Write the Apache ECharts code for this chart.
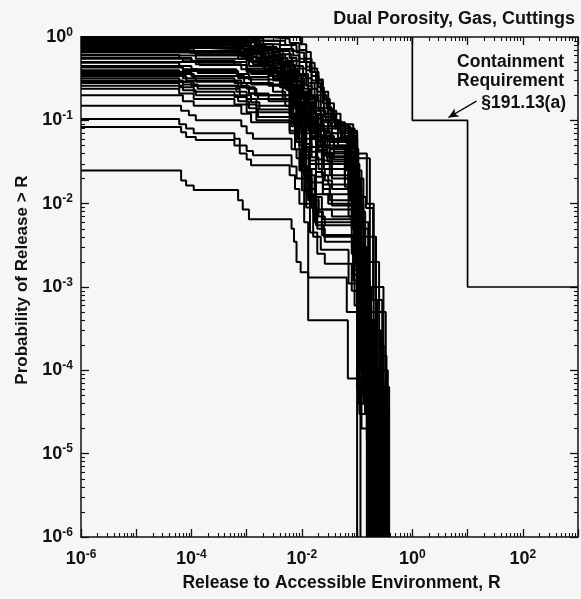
<!DOCTYPE html>
<html><head><meta charset="utf-8">
<script src="https://cdn.jsdelivr.net/npm/echarts@6/dist/echarts.min.js"></script>
<style>html,body{margin:0;padding:0;background:#f6f6f6}#c{width:581px;height:599px}</style>
</head><body><div id="c"></div>
<script>
// ---- tick labels ----
const xLabelValues = [1e-6, 1e-4, 1e-2, 1, 100];
const yLabelValues = [1e-6, 1e-5, 1e-4, 1e-3, 1e-2, 1e-1, 1];

// ---- containment requirement (EPA 191.13(a)) ----
const containmentX = [1, 1, 10, 10, 1000];
const containmentY = [1, 0.1, 0.1, 0.001, 0.001];
const arrowFrom = [14.5, 0.17];
const arrowTo = [4.5, 0.108];

// ---- CCDF curves: [release R, probability > R] breakpoints ----
const upperCurves = [
  [[1e-6,1.0],[9.6e-3,0.82],[1.2e-2,0.66],[1.45e-2,0.49],[1.7e-2,0.38],[2.0e-2,0.30],[2.3e-2,0.22],[2.6e-2,0.175],[3.0e-2,0.145],[3.4e-2,0.116],[3.8e-2,0.093],[4.5e-2,0.077],[5.1e-2,0.063],[6.8e-2,0.053],[8.4e-2,0.046],[0.104,0.012],[0.145,0.0089],[0.195,7e-4],[0.285,6.3e-5],[0.38,1e-6]],
  [[1e-6,0.99],[3e-3,0.95],[6e-3,0.85],[9e-3,0.7],[1.2e-2,0.55],[1.5e-2,0.42],[1.9e-2,0.31],[2.4e-2,0.22],[3e-2,0.16],[3.8e-2,0.12],[5e-2,0.09],[7e-2,0.07],[0.1,0.04],[0.15,0.01],[0.2,0.001],[0.3,1e-4],[0.36,1e-6]],
  [[1e-6,0.98],[1.2e-4,0.95],[1.2e-3,0.9],[2e-3,0.82],[3e-3,0.72],[4.5e-3,0.62],[6.5e-3,0.52],[9e-3,0.42],[1.2e-2,0.32],[1.5e-2,0.24],[1.9e-2,0.17],[2.5e-2,0.12],[3.3e-2,0.085],[4.5e-2,0.062],[9.5e-2,0.025],[0.12,0.006],[0.16,7e-4],[0.23,5e-5],[0.32,1e-6]],
  [[1e-6,0.97],[2e-3,0.9],[5e-3,0.8],[8e-3,0.65],[1.1e-2,0.5],[1.4e-2,0.38],[1.8e-2,0.28],[2.2e-2,0.2],[2.8e-2,0.14],[3.5e-2,0.1],[4.5e-2,0.075],[5.5e-2,0.06],[0.1,0.02],[0.13,0.005],[0.16,0.002],[0.25,1e-4],[0.33,1e-6]],
  [[1e-6,0.96],[1.5e-3,0.9],[4e-3,0.8],[6.5e-3,0.68],[9e-3,0.55],[1.2e-2,0.44],[1.5e-2,0.34],[2e-2,0.25],[2.5e-2,0.18],[3.2e-2,0.13],[4.2e-2,0.095],[6e-2,0.075],[0.1,0.035],[0.17,0.004],[0.22,5e-4],[0.33,3e-5],[0.37,1e-6]],
  [[1e-6,0.95],[1e-4,0.92],[1e-3,0.86],[1.8e-3,0.76],[2.8e-3,0.66],[4e-3,0.56],[5.5e-3,0.46],[7.5e-3,0.36],[1e-2,0.27],[1.3e-2,0.2],[1.7e-2,0.14],[2.2e-2,0.1],[3e-2,0.07],[4.5e-2,0.05],[0.09,0.018],[0.11,0.003],[0.15,3e-4],[0.27,1e-6]],
  [[1e-6,0.94],[1.5e-4,0.9],[1.5e-3,0.82],[4e-3,0.72],[7e-3,0.6],[9e-3,0.5],[1.2e-2,0.4],[1.5e-2,0.3],[1.9e-2,0.22],[2.4e-2,0.16],[3e-2,0.12],[4e-2,0.085],[6e-2,0.065],[0.095,0.03],[0.11,0.008],[0.14,0.001],[0.2,2e-4],[0.3,1e-6]],
  [[1e-6,0.93],[1.4e-4,0.89],[1.4e-3,0.8],[2.2e-3,0.7],[3.2e-3,0.6],[4.5e-3,0.5],[6e-3,0.4],[8e-3,0.3],[1.05e-2,0.22],[1.35e-2,0.16],[1.75e-2,0.115],[2.4e-2,0.08],[3.5e-2,0.058],[8e-2,0.028],[0.1,0.005],[0.14,4e-4],[0.19,2e-5],[0.29,1e-6]],
  [[1e-6,0.91],[1.2e-4,0.86],[1.2e-3,0.76],[3.5e-3,0.68],[6e-3,0.56],[8e-3,0.45],[1.05e-2,0.36],[1.3e-2,0.28],[1.7e-2,0.2],[2.2e-2,0.14],[3e-2,0.1],[5e-2,0.075],[8e-2,0.06],[0.1,0.015],[0.12,0.004],[0.17,3e-4],[0.26,1e-6]],
  [[1e-6,0.9],[9e-5,0.86],[9e-4,0.78],[1.6e-3,0.68],[2.5e-3,0.58],[3.6e-3,0.48],[5e-3,0.38],[7e-3,0.29],[9.5e-3,0.21],[1.25e-2,0.15],[1.6e-2,0.105],[2.2e-2,0.075],[3.2e-2,0.055],[7.5e-2,0.022],[0.095,0.004],[0.12,4e-4],[0.21,1e-6]],
  [[1e-6,0.88],[1e-4,0.83],[1e-3,0.72],[3e-3,0.62],[5e-3,0.52],[7e-3,0.42],[9e-3,0.34],[1.2e-2,0.26],[1.5e-2,0.19],[2e-2,0.13],[2.7e-2,0.1],[4e-2,0.08],[9e-2,0.045],[0.105,0.01],[0.13,0.002],[0.15,5e-4],[0.22,1e-6]],
  [[1e-6,0.87],[1.1e-4,0.83],[1.1e-3,0.74],[1.9e-3,0.64],[2.9e-3,0.54],[4.2e-3,0.44],[6e-3,0.34],[8e-3,0.25],[1.05e-2,0.18],[1.35e-2,0.13],[1.8e-2,0.09],[2.5e-2,0.065],[3.8e-2,0.048],[9e-2,0.015],[0.105,0.0025],[0.125,1.5e-4],[0.34,1e-6]],
  [[1e-6,0.85],[9e-5,0.8],[9e-4,0.7],[2.5e-3,0.6],[4.5e-3,0.5],[6.5e-3,0.4],[8.5e-3,0.32],[1.1e-2,0.24],[1.4e-2,0.18],[1.8e-2,0.14],[2.5e-2,0.11],[4e-2,0.09],[8.5e-2,0.05],[0.1,0.02],[0.115,0.003],[0.16,2e-4],[0.2,1e-6]],
  [[1e-6,0.84],[8e-5,0.8],[8e-4,0.72],[1.4e-3,0.62],[2.2e-3,0.52],[3.2e-3,0.42],[4.6e-3,0.33],[6.5e-3,0.25],[8.8e-3,0.18],[1.15e-2,0.125],[1.5e-2,0.088],[2e-2,0.063],[2.9e-2,0.047],[8e-2,0.012],[0.1,0.0015],[0.135,1e-4],[0.25,1e-6]],
  [[1e-6,0.82],[8e-5,0.78],[8e-4,0.66],[2e-3,0.58],[4e-3,0.48],[6e-3,0.38],[8e-3,0.3],[1e-2,0.22],[1.3e-2,0.16],[1.7e-2,0.12],[2.3e-2,0.095],[3.5e-2,0.08],[8e-2,0.04],[0.095,0.009],[0.12,0.001],[0.18,1e-4],[0.24,1e-6]],
  [[1e-6,0.81],[1.3e-4,0.77],[1.3e-3,0.68],[2e-3,0.58],[3e-3,0.48],[4.3e-3,0.39],[6e-3,0.3],[8.2e-3,0.22],[1.1e-2,0.16],[1.45e-2,0.11],[1.9e-2,0.078],[2.6e-2,0.056],[3.8e-2,0.042],[9e-2,0.011],[0.11,0.0012],[0.17,6e-5],[0.31,1e-6]],
  [[1e-6,0.79],[1e-4,0.74],[9e-4,0.64],[2.2e-3,0.55],[3.8e-3,0.46],[5.5e-3,0.37],[7.5e-3,0.29],[9.5e-3,0.22],[1.2e-2,0.17],[1.6e-2,0.13],[2.2e-2,0.1],[3e-2,0.085],[7.5e-2,0.035],[0.09,0.012],[0.11,0.002],[0.14,1.5e-4],[0.28,1e-6]],
  [[1e-6,0.78],[9e-5,0.74],[9e-4,0.65],[1.5e-3,0.55],[2.4e-3,0.45],[3.5e-3,0.36],[5e-3,0.28],[7e-3,0.2],[9.5e-3,0.14],[1.25e-2,0.098],[1.65e-2,0.07],[2.2e-2,0.05],[3.2e-2,0.037],[8.5e-2,0.009],[0.1,0.001],[0.13,5e-5],[0.22,1e-6]],
  [[1e-6,0.76],[7e-5,0.72],[7e-4,0.62],[1.8e-3,0.52],[3.5e-3,0.43],[5e-3,0.35],[7e-3,0.27],[9e-3,0.2],[1.15e-2,0.15],[1.5e-2,0.11],[2e-2,0.085],[3e-2,0.07],[7e-2,0.03],[0.085,0.006],[0.1,8e-4],[0.13,1e-4],[0.19,1e-6]],
  [[1e-6,0.75],[1.2e-4,0.71],[1.2e-3,0.62],[1.9e-3,0.52],[2.9e-3,0.43],[4.2e-3,0.34],[6e-3,0.26],[8.2e-3,0.19],[1.1e-2,0.13],[1.45e-2,0.092],[1.9e-2,0.066],[2.6e-2,0.047],[3.8e-2,0.034],[9.5e-2,0.008],[0.115,8e-4],[0.14,3e-5],[0.27,1e-6]],
  [[1e-6,0.73],[1.1e-4,0.68],[8e-4,0.58],[1.5e-3,0.5],[3e-3,0.42],[4.5e-3,0.33],[6.5e-3,0.26],[8.5e-3,0.19],[1.1e-2,0.14],[1.4e-2,0.1],[1.9e-2,0.075],[2.8e-2,0.06],[6.5e-2,0.025],[0.08,0.005],[0.1,5e-4],[0.15,5e-5],[0.35,1e-6]],
  [[1e-6,0.72],[7e-5,0.68],[7e-4,0.6],[1.3e-3,0.5],[2.1e-3,0.41],[3.1e-3,0.32],[4.5e-3,0.25],[6.4e-3,0.18],[8.6e-3,0.125],[1.15e-2,0.088],[1.5e-2,0.062],[2e-2,0.044],[2.9e-2,0.032],[7e-2,0.007],[0.09,6e-4],[0.12,2e-5],[0.2,1e-6]],
  [[1e-6,0.7],[9e-5,0.65],[7e-4,0.55],[1.3e-3,0.47],[2.8e-3,0.39],[4.2e-3,0.31],[6e-3,0.24],[8e-3,0.17],[1e-2,0.12],[1.3e-2,0.09],[1.8e-2,0.065],[2.6e-2,0.05],[6e-2,0.02],[0.09,0.003],[0.12,3e-4],[0.17,2e-5],[0.31,1e-6]],
  [[1e-6,0.69],[1e-4,0.65],[1e-3,0.57],[1.7e-3,0.48],[2.6e-3,0.39],[3.8e-3,0.31],[5.4e-3,0.23],[7.5e-3,0.17],[1e-2,0.12],[1.3e-2,0.082],[1.75e-2,0.058],[2.4e-2,0.041],[3.5e-2,0.03],[8.5e-2,0.006],[0.1,5e-4],[0.16,1e-5],[0.3,1e-6]],
  [[1e-6,0.67],[1.3e-4,0.62],[1e-3,0.52],[1.6e-3,0.45],[3.2e-3,0.37],[5e-3,0.29],[7e-3,0.22],[9e-3,0.16],[1.2e-2,0.115],[1.6e-2,0.08],[2.2e-2,0.06],[3.2e-2,0.045],[7e-2,0.018],[0.095,0.0025],[0.13,2e-4],[0.21,1e-6]]
];
const middleCurves = [
  [[1e-6,0.65],[1.2e-4,0.6],[1.2e-3,0.5],[2e-3,0.42],[3.5e-3,0.33],[5e-3,0.24],[7e-3,0.15],[9e-3,0.085],[1.1e-2,0.045],[1.35e-2,0.022],[1.7e-2,0.012],[2.3e-2,0.0085],[3.5e-2,0.007],[9.5e-2,0.0025],[0.13,1e-4],[0.24,1e-6]],
  [[1e-6,0.61],[6e-5,0.56],[1e-4,0.52],[6e-4,0.46],[1e-3,0.4],[2.5e-3,0.34],[4e-3,0.28],[6e-3,0.21],[8e-3,0.15],[1e-2,0.105],[1.3e-2,0.075],[1.8e-2,0.055],[2.5e-2,0.04],[6e-2,0.016],[0.1,0.002],[0.14,1e-4],[0.23,1e-6]],
  [[1e-6,0.6],[1.2e-4,0.55],[1.1e-3,0.45],[3.5e-3,0.36],[5.5e-3,0.25],[7.5e-3,0.15],[9.5e-3,0.08],[1.15e-2,0.035],[1.4e-2,0.015],[1.8e-2,0.008],[2.4e-2,0.0065],[9e-2,0.002],[0.13,5e-5],[0.24,1e-6]],
  [[1e-6,0.56],[7e-5,0.51],[1.2e-4,0.47],[8e-4,0.41],[1.2e-3,0.36],[3e-3,0.3],[5e-3,0.24],[7e-3,0.18],[9e-3,0.13],[1.1e-2,0.09],[1.4e-2,0.065],[1.9e-2,0.048],[2.8e-2,0.036],[7e-2,0.013],[0.1,0.001],[0.15,6e-5],[0.27,1e-6]],
  [[1e-6,0.55],[1e-4,0.5],[1e-3,0.42],[2.5e-3,0.34],[4e-3,0.25],[6e-3,0.17],[8e-3,0.1],[1e-2,0.05],[1.2e-2,0.02],[1.5e-2,0.009],[1.9e-2,0.005],[2.6e-2,0.0035],[8.5e-2,0.0012],[0.105,4e-5],[0.18,1e-6]],
  [[1e-6,0.5],[1.4e-4,0.46],[1e-3,0.38],[4e-3,0.3],[6e-3,0.2],[8e-3,0.12],[1e-2,0.06],[1.2e-2,0.025],[1.5e-2,0.012],[2e-2,0.007],[2.6e-2,0.0055],[9e-2,0.0018],[0.12,1e-4],[0.2,1e-6]],
  [[1e-6,0.49],[6e-5,0.45],[1e-4,0.41],[6.5e-4,0.36],[1.1e-3,0.31],[5e-3,0.25],[7e-3,0.19],[9e-3,0.14],[1.1e-2,0.1],[1.4e-2,0.07],[1.8e-2,0.05],[2.3e-2,0.038],[3.2e-2,0.03],[7.5e-2,0.011],[0.1,0.0015],[0.16,8e-5],[0.3,1e-6]],
  [[1e-6,0.45],[7e-5,0.41],[1.3e-4,0.37],[7e-4,0.32],[1.2e-3,0.27],[6e-3,0.21],[8e-3,0.16],[1e-2,0.12],[1.2e-2,0.085],[1.5e-2,0.06],[1.9e-2,0.043],[2.5e-2,0.033],[3.5e-2,0.026],[8e-2,0.009],[0.1,0.001],[0.14,3e-5],[0.25,1e-6]],
  [[1e-6,0.43],[7e-5,0.39],[7e-4,0.33],[2.5e-3,0.26],[4.5e-3,0.18],[6.5e-3,0.11],[8.5e-3,0.06],[1.05e-2,0.028],[1.3e-2,0.012],[1.7e-2,0.006],[2.3e-2,0.0042],[9e-2,0.0016],[0.12,6e-5],[0.22,1e-6]],
  [[1e-6,0.4],[6e-5,0.36],[1.1e-4,0.32],[6e-4,0.28],[1e-3,0.24],[1.5e-3,0.2],[6.5e-3,0.16],[9e-3,0.12],[1.1e-2,0.085],[1.4e-2,0.06],[1.8e-2,0.042],[2.3e-2,0.03],[3.2e-2,0.022],[8e-2,0.008],[0.1,9e-4],[0.13,4e-5],[0.2,1e-6]],
  [[1e-6,0.38],[1e-4,0.34],[9e-4,0.28],[3e-3,0.22],[5e-3,0.15],[7e-3,0.09],[9e-3,0.05],[1.1e-2,0.022],[1.4e-2,0.01],[1.8e-2,0.0055],[2.5e-2,0.004],[8.5e-2,0.0014],[0.1,6e-5],[0.16,1e-6]],
  [[1e-6,0.36],[7e-5,0.32],[1.2e-4,0.29],[7e-4,0.25],[1.1e-3,0.21],[1.6e-3,0.18],[6.5e-3,0.14],[9e-3,0.1],[1.2e-2,0.07],[1.5e-2,0.048],[1.9e-2,0.034],[2.5e-2,0.026],[3.5e-2,0.02],[8.5e-2,0.007],[0.11,6e-4],[0.18,2e-5],[0.36,1e-6]],
  [[1e-6,0.34],[8e-5,0.3],[8e-4,0.25],[1.4e-3,0.2],[6e-3,0.14],[8e-3,0.06],[1e-2,0.02],[1.2e-2,0.009],[1.6e-2,0.004],[2.2e-2,0.0028],[7e-2,0.0011],[0.105,5e-5],[0.15,1e-6]],
  [[1e-6,0.32],[6e-5,0.29],[1e-4,0.26],[6.5e-4,0.22],[1e-3,0.18],[1.5e-3,0.15],[6e-3,0.12],[8.5e-3,0.085],[1.1e-2,0.06],[1.4e-2,0.042],[1.8e-2,0.03],[2.3e-2,0.022],[3e-2,0.017],[9e-2,0.0055],[0.11,4e-4],[0.15,1.5e-5],[0.33,1e-6]],
  [[1e-6,0.3],[7e-5,0.27],[1.3e-4,0.24],[7.5e-4,0.2],[1.2e-3,0.165],[1.7e-3,0.135],[6.5e-3,0.105],[9e-3,0.075],[1.2e-2,0.052],[1.5e-2,0.036],[2e-2,0.026],[2.6e-2,0.019],[3.5e-2,0.015],[9e-2,0.0045],[0.11,3e-4],[0.16,1e-5],[0.29,1e-6]],
  [[1e-6,0.29],[1.1e-4,0.26],[1.1e-3,0.21],[2.5e-3,0.17],[6e-3,0.12],[7.5e-3,0.06],[9e-3,0.025],[1.1e-2,0.01],[1.4e-2,0.0045],[1.9e-2,0.0025],[2.6e-2,0.0019],[8e-2,0.0009],[0.11,3e-5],[0.16,1e-6]],
  [[1e-6,0.28],[6e-5,0.25],[1.1e-4,0.22],[6e-4,0.19],[1e-3,0.155],[1.5e-3,0.125],[6e-3,0.095],[8e-3,0.07],[1.1e-2,0.048],[1.4e-2,0.033],[1.8e-2,0.024],[2.4e-2,0.017],[3.2e-2,0.013],[9.5e-2,0.004],[0.12,2e-4],[0.2,1e-6]],
  [[1e-6,0.26],[7e-5,0.23],[1.2e-4,0.2],[7e-4,0.17],[1.1e-3,0.14],[1.6e-3,0.11],[6.5e-3,0.085],[8.5e-3,0.06],[1.1e-2,0.042],[1.4e-2,0.03],[1.8e-2,0.021],[2.4e-2,0.015],[3.2e-2,0.011],[9e-2,0.0035],[0.11,1.5e-4],[0.26,1e-6]],
  [[1e-6,0.24],[6e-5,0.21],[1.1e-4,0.18],[6e-4,0.155],[1e-3,0.125],[1.5e-3,0.1],[6e-3,0.075],[8e-3,0.055],[1.05e-2,0.038],[1.35e-2,0.026],[1.8e-2,0.018],[2.4e-2,0.013],[3.5e-2,0.0095],[0.1,0.003],[0.12,1e-4],[0.18,1e-6]]
];
const lowerCurves = [
  [[1e-6,0.2],[7e-5,0.17],[1.1e-4,0.15],[8e-4,0.12],[1.2e-3,0.095],[6e-3,0.07],[7.5e-3,0.045],[9.5e-3,0.025],[1.2e-2,0.013],[1.6e-2,0.008],[2.3e-2,0.006],[9e-2,0.002],[0.11,8e-5],[0.19,1e-6]],
  [[1e-6,0.15],[6.5e-5,0.13],[9e-5,0.115],[1.2e-4,0.1],[8e-4,0.085],[1e-3,0.07],[1.3e-3,0.06],[6.5e-3,0.045],[8e-3,0.035],[1e-2,0.025],[1.3e-2,0.018],[1.8e-2,0.013],[3e-2,0.01],[0.1,0.003],[0.115,2e-4],[0.3,1e-6]],
  [[1e-6,0.104],[6e-5,0.09],[8e-5,0.08],[1.1e-4,0.07],[6e-4,0.06],[7.5e-4,0.05],[1e-3,0.043],[1.3e-3,0.038],[6.5e-3,0.028],[8e-3,0.02],[1e-2,0.0145],[1.3e-2,0.011],[2e-2,0.0085],[8e-2,0.0025],[0.1,1e-4],[0.17,1e-6]],
  [[1e-6,0.083],[6.5e-5,0.072],[8e-5,0.063],[1.2e-4,0.058],[6e-4,0.05],[7.5e-4,0.04],[1e-3,0.034],[1.2e-3,0.029],[6e-3,0.022],[7.5e-3,0.015],[9e-3,0.01],[1.1e-2,0.006],[1.3e-2,0.0013],[6.5e-2,5e-4],[0.1,1e-6]],
  [[1e-6,0.025],[6.5e-5,0.019],[8e-5,0.0165],[1.1e-4,0.0146],[7e-4,0.011],[8.5e-4,0.0085],[1.1e-3,0.0065],[6.5e-3,0.005],[7.2e-3,0.0035],[8e-3,0.002],[9.5e-3,0.0015],[1.3e-2,4e-4],[6.8e-2,8e-5],[0.115,1e-6]]
];

// ---- tick positions (axis styling) ----
const decades = [];
const minors = [];
for (let e = -6; e <= 3; e++) {
  decades.push(Math.pow(10, e));
  if (e < 3) for (let m = 2; m <= 9; m++) minors.push(m * Math.pow(10, e));
}
const yDecades = decades.filter(v => v <= 1.0000001);
const yMinors = minors.filter(v => v < 1);

const FONT = 'Liberation Sans, Arial, sans-serif';
const INK = '#111';
const richLabel = {
  b: {fontSize: 18, fontWeight: 'bold', fontFamily: FONT, color: INK},
  s: {fontSize: 12, fontWeight: 'bold', fontFamily: FONT, color: INK, padding: [0, 0, 9, 0]}
};
const fmt = v => '{b|10}{s|' + Math.round(Math.log10(v)) + '}';

function axisSet(kind, majors, minorsArr, labels, extra) {
  const base = {type: 'log', logBase: 10, gridIndex: 0, splitLine: {show: false}, min: 1e-6, max: kind === 'x' ? 1000 : 1, silent: true};
  return [
    Object.assign({}, base, {
      axisLine: {show: true, lineStyle: {color: INK, width: 1.5}},
      axisTick: {show: true, inside: true, length: 8, customValues: majors, lineStyle: {color: INK, width: 1.3}},
      axisLabel: labels ? {show: true, customValues: labels, formatter: fmt, rich: richLabel, margin: kind === 'x' ? 12 : 8} : {show: false}
    }, extra),
    Object.assign({}, base, {
      axisLine: {show: false},
      axisTick: {show: true, inside: true, length: 4, customValues: minorsArr, lineStyle: {color: INK, width: 1.1}},
      axisLabel: {show: false},
      position: extra.position
    })
  ];
}

const titleStyle = {fontSize: 17.5, fontWeight: 'bold', fontFamily: FONT, color: INK};
const xAxes = [].concat(
  axisSet('x', decades, minors, xLabelValues, {position: 'bottom', name: 'Release to Accessible Environment, R', nameLocation: 'middle', nameGap: 37,
    nameTextStyle: Object.assign({padding: [0, 0, 0, 24]}, titleStyle)}),
  axisSet('x', decades, minors, null, {position: 'top'})
);
const yAxes = [].concat(
  axisSet('y', yDecades, yMinors, yLabelValues, {position: 'left', name: 'Probability of Release > R', nameLocation: 'middle', nameGap: 50,
    nameTextStyle: Object.assign({padding: [0, 0, 0, 14]}, titleStyle, {fontSize: 17})}),
  axisSet('y', yDecades, yMinors, null, {position: 'right'})
);

const series = [];
upperCurves.concat(middleCurves, lowerCurves).forEach(c => {
  series.push({type: 'line', data: c, step: 'end', symbol: 'none', silent: true,
    lineStyle: {color: '#000', width: 2}, xAxisIndex: 0, yAxisIndex: 0});
});
series.push({
  type: 'line', symbol: 'none', silent: true, xAxisIndex: 0, yAxisIndex: 0,
  data: containmentX.map((x, i) => [x, containmentY[i]]),
  lineStyle: {color: '#000', width: 1.7},
  markLine: {silent: true, symbol: ['none', 'arrow'], symbolSize: [7, 10], label: {show: false},
    lineStyle: {color: '#000', width: 1.3, type: 'solid'},
    data: [[{coord: arrowFrom}, {coord: arrowTo}]]}
});

const chart = echarts.init(document.getElementById('c'), null, {renderer: 'canvas'});
chart.setOption({
  animation: false,
  backgroundColor: '#f6f6f6',
  grid: {left: 81, right: 3, top: 37, bottom: 62, containLabel: false},
  xAxis: xAxes,
  yAxis: yAxes,
  series: series,
  graphic: [
    {type: 'text', x: 575, y: 19, style: {text: 'Dual Porosity, Gas, Cuttings', font: 'bold 18px ' + FONT, fill: INK, textAlign: 'right', textVerticalAlign: 'middle'}},
    {type: 'text', x: 564, y: 62, style: {text: 'Containment', font: 'bold 17.5px ' + FONT, fill: INK, textAlign: 'right', textVerticalAlign: 'middle'}},
    {type: 'text', x: 564, y: 81, style: {text: 'Requirement', font: 'bold 17.5px ' + FONT, fill: INK, textAlign: 'right', textVerticalAlign: 'middle'}},
    {type: 'text', x: 566, y: 103, style: {text: '§191.13(a)', font: 'bold 17.5px ' + FONT, fill: INK, textAlign: 'right', textVerticalAlign: 'middle'}}
  ]
});
</script></body></html>
